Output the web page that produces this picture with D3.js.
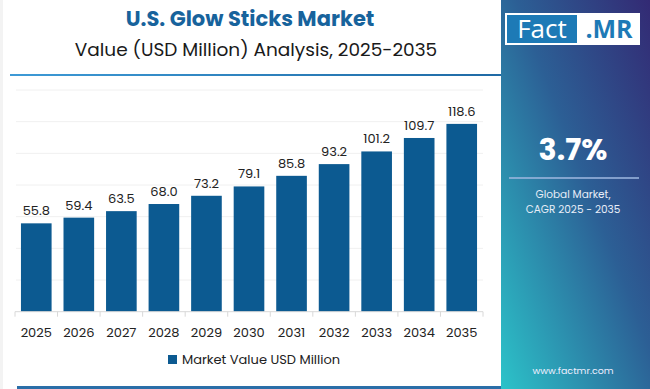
<!DOCTYPE html>
<html><head><meta charset="utf-8">
<script src="https://cdn.jsdelivr.net/npm/d3@7"></script>
<style>html,body{margin:0;padding:0;background:#fff;}svg{display:block;font-family:"Poppins","Inter","Open Sans",sans-serif;}</style>
</head><body>
<svg id="c" width="650" height="389"></svg>
<script>
const years = ["2025","2026","2027","2028","2029","2030","2031","2032","2033","2034","2035"];
const values = [55.8,59.4,63.5,68.0,73.2,79.1,85.8,93.2,101.2,109.7,118.6];
const yTicks = [0,20,40,60,80,100,120,140];
const title = "U.S. Glow Sticks Market";
const subtitle = "Value (USD Million) Analysis, 2025-2035";
const legendLabel = "Market Value USD Million";
const cagr = "3.7%";
const cagrLabel = ["Global Market,", "CAGR 2025 - 2035"];

const svg = d3.select("#c");
const defs = svg.append("defs");
const g1 = defs.append("linearGradient").attr("id","pg").attr("x1","100%").attr("y1","0%").attr("x2","0%").attr("y2","100%");
g1.append("stop").attr("offset","0%").attr("stop-color","#332a74");
g1.append("stop").attr("offset","45%").attr("stop-color","#2c5f95");
g1.append("stop").attr("offset","100%").attr("stop-color","#2cc3c9");
const g2 = defs.append("linearGradient").attr("id","lg").attr("x1","0%").attr("x2","100%");
g2.append("stop").attr("offset","0%").attr("stop-color","#3d9ad6");
g2.append("stop").attr("offset","100%").attr("stop-color","#1f6aa5");

// left faint border
svg.append("rect").attr("x",0).attr("y",0).attr("width",3).attr("height",389).attr("fill","#f3f3f3");

// right panel
svg.append("rect").attr("x",501).attr("y",0).attr("width",149).attr("height",389).attr("fill","url(#pg)");

// logo
svg.append("rect").attr("x",505).attr("y",13).attr("width",135).attr("height",32).attr("fill","#fff");
svg.append("rect").attr("x",507).attr("y",15).attr("width",70).attr("height",28).attr("fill","#1d7ab6");
svg.append("text").attr("x",542).attr("y",38).attr("text-anchor","middle").attr("fill","#fff")
  .attr("font-size",26).attr("font-family","Open Sans, sans-serif").text("Fact");
svg.append("text").attr("x",609).attr("y",38).attr("text-anchor","middle").attr("fill","#1d7ab6")
  .attr("font-size",25).attr("font-weight","bold").attr("font-family","Open Sans, sans-serif").text(".MR");

svg.append("text").attr("x",573).attr("y",160).attr("text-anchor","middle").attr("fill","#fff")
  .attr("font-size",30).attr("font-weight","bold").text(cagr);
svg.append("line").attr("x1",509).attr("x2",639).attr("y1",178).attr("y2",178).attr("stroke","#9fb8e0").attr("stroke-width",1.5);
cagrLabel.forEach((t,i)=>svg.append("text").attr("x",573).attr("y",198+i*15).attr("text-anchor","middle")
  .attr("fill","#e8eef8").attr("font-size",10.5).text(t));
svg.append("text").attr("x",573).attr("y",374).attr("text-anchor","middle").attr("fill","#eef").attr("font-size",9.5).text("www.factmr.com");

// titles
svg.append("text").attr("x",250).attr("y",26).attr("text-anchor","middle").attr("fill","#17639c")
  .attr("font-size",21).attr("font-weight","bold").text(title);
svg.append("text").attr("x",256).attr("y",56).attr("text-anchor","middle").attr("fill","#1a1a1a")
  .attr("font-size",18.5).text(subtitle);
svg.append("rect").attr("x",10).attr("y",74).attr("width",491).attr("height",2).attr("fill","url(#lg)");
svg.append("rect").attr("x",17).attr("y",386).attr("width",484).attr("height",3).attr("fill","#2a6ea8");

// chart
const x = d3.scaleBand().domain(years).range([15,483]).paddingInner(0.28).paddingOuter(0.14);
const y = d3.scaleLinear().domain([0,140]).range([311.7,90]);

svg.append("g").selectAll("line").data(yTicks.slice(1)).join("line")
  .attr("x1",16).attr("x2",483).attr("y1",d=>y(d)).attr("y2",d=>y(d)).attr("stroke","#f0f0f0").attr("stroke-width",1);

svg.append("g").selectAll("rect").data(values).join("rect")
  .attr("x",(d,i)=>x(years[i])).attr("width",x.bandwidth())
  .attr("y",d=>y(d)).attr("height",d=>y(0)-y(d)).attr("fill","#0c5a91");

svg.append("g").selectAll("text").data(values).join("text")
  .attr("x",(d,i)=>x(years[i])+x.bandwidth()/2).attr("y",d=>y(d)-8)
  .attr("text-anchor","middle").attr("fill","#222").attr("font-size",13).text(d=>d.toFixed(1));

// x axis
const ax = svg.append("g").attr("transform",`translate(0,${y(0)})`);
ax.append("line").attr("x1",15).attr("x2",483).attr("stroke","#d8d8d8");
ax.selectAll("line.t").data(d3.range(12)).join("line").attr("class","t")
  .attr("x1",i=>15+i*(468/11)).attr("x2",i=>15+i*(468/11)).attr("y1",0).attr("y2",5).attr("stroke","#d8d8d8");
ax.selectAll("text").data(years).join("text")
  .attr("x",d=>x(d)+x.bandwidth()/2).attr("y",25).attr("text-anchor","middle")
  .attr("fill","#222").attr("font-size",13).text(d=>d);

// legend
svg.append("rect").attr("x",168).attr("y",355).attr("width",9).attr("height",9).attr("fill","#0c5a91");
svg.append("text").attr("x",182).attr("y",364).attr("fill","#222").attr("font-size",13).text(legendLabel);
</script>
</body></html>
